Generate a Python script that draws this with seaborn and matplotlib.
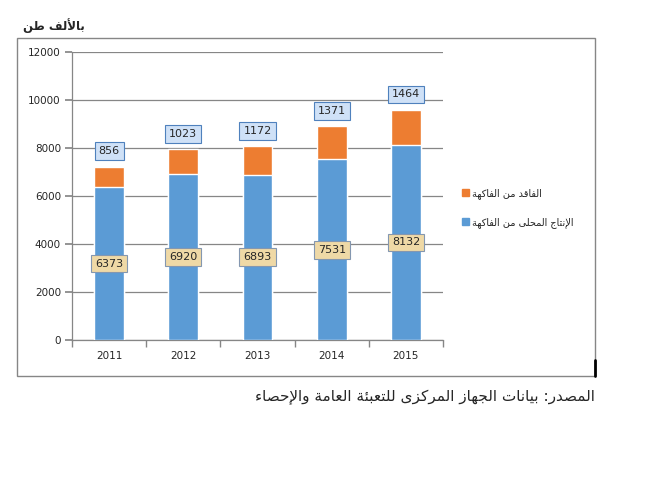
import numpy as np
import pandas as pd
import matplotlib
matplotlib.use("Agg")
import matplotlib.pyplot as plt
import seaborn as sns
from matplotlib.patches import Rectangle
from matplotlib.lines import Line2D

years = ["2011", "2012", "2013", "2014", "2015"]
local_prod = [6373, 6920, 6893, 7531, 8132]
loss = [856, 1023, 1172, 1371, 1464]

unit_label = "بالألف طن"
loss_label = "الفاقد من الفاكهة"
local_label = "الإنتاج المحلى من الفاكهة"
source_label = "المصدر: بيانات الجهاز المركزى للتعبئة العامة والإحصاء"

# --- minimal Arabic shaping (matplotlib has no complex text layout) ---
DUAL = {'ئ': 0xFE89, 'ب': 0xFE8F, 'ت': 0xFE95, 'ث': 0xFE99, 'ج': 0xFE9D,
        'ح': 0xFEA1, 'خ': 0xFEA5, 'س': 0xFEB1, 'ش': 0xFEB5, 'ص': 0xFEB9,
        'ض': 0xFEBD, 'ط': 0xFEC1, 'ظ': 0xFEC5, 'ع': 0xFEC9, 'غ': 0xFECD,
        'ف': 0xFED1, 'ق': 0xFED5, 'ك': 0xFED9, 'ل': 0xFEDD, 'م': 0xFEE1,
        'ن': 0xFEE5, 'ه': 0xFEE9, 'ي': 0xFEF1}
RIGHT = {'آ': 0xFE81, 'أ': 0xFE83, 'ؤ': 0xFE85, 'إ': 0xFE87, 'ا': 0xFE8D,
         'ة': 0xFE93, 'د': 0xFEA9, 'ذ': 0xFEAB, 'ر': 0xFEAD, 'ز': 0xFEAF,
         'و': 0xFEED, 'ى': 0xFEEF}
LAM_ALEF = {'آ': 0xFEF5, 'أ': 0xFEF7, 'إ': 0xFEF9, 'ا': 0xFEFB}


def shape(text):
    toks = []
    i = 0
    while i < len(text):
        c = text[i]
        if c == 'ل' and i + 1 < len(text) and text[i + 1] in LAM_ALEF:
            toks.append(('R', LAM_ALEF[text[i + 1]]))
            i += 2
            continue
        if c in DUAL:
            toks.append(('D', DUAL[c]))
        elif c in RIGHT:
            toks.append(('R', RIGHT[c]))
        elif c == 'ء':
            toks.append(('N', 0xFE80))
        else:
            toks.append(('X', c))
        i += 1
    out = []
    for j, (k, b) in enumerate(toks):
        if k == 'X':
            out.append(b)
            continue
        prev = toks[j - 1][0] if j > 0 else 'X'
        nxt = toks[j + 1][0] if j + 1 < len(toks) else 'X'
        jp = prev == 'D' and k in 'DR'
        jn = k == 'D' and nxt in 'DR'
        if k == 'N':
            off = 0
        elif jp and jn:
            off = 3
        elif jn:
            off = 2
        elif jp:
            off = 1
        else:
            off = 0
        out.append(chr(b + off))
    return ''.join(reversed(out))


sns.set_theme(style="white")
plt.rcParams['font.family'] = ['DejaVu Sans']

df = pd.DataFrame({"year": years, "local": local_prod, "loss": loss})
df["total"] = df["local"] + df["loss"]

blue = "#5b9bd5"
orange = "#ed7d31"
grid_c = "#868686"

fig = plt.figure(figsize=(6.5, 4.83), dpi=100)
ax = fig.add_axes([72 / 650, 143 / 483, 371 / 650, 288 / 483])

sns.barplot(data=df, x="year", y="total", color=orange, width=0.4,
            saturation=1, ax=ax, zorder=2)
sns.barplot(data=df, x="year", y="local", color=blue, width=0.4,
            saturation=1, ax=ax, zorder=3)

ax.set_ylim(0, 12000)
ax.set_xlim(-0.5, len(years) - 0.5)
ax.set_yticks(np.arange(0, 12001, 2000))
ax.yaxis.grid(True, color=grid_c, linewidth=0.9)
ax.set_axisbelow(True)
ax.set_xlabel("")
ax.set_ylabel("")
for s in ["top", "right"]:
    ax.spines[s].set_visible(False)
for s in ["left", "bottom"]:
    ax.spines[s].set_color(grid_c)
    ax.spines[s].set_linewidth(0.9)
ax.tick_params(axis="y", length=5, color=grid_c, labelsize=7.5, left=True, pad=3)
ax.tick_params(axis="x", length=0, labelsize=7.5, pad=8)
ax.set_xticks(np.arange(-0.5, len(years), 1.0), minor=True)
ax.tick_params(axis="x", which="minor", length=5, color=grid_c, bottom=True)

# data labels
for i, row in df.iterrows():
    ax.text(i, row["local"] / 2, f"{row['local']}", ha="center", va="center",
            fontsize=8, zorder=5,
            bbox=dict(boxstyle="square,pad=0.35", fc="#efd9a6", ec="#8497b0", lw=0.8))
    ax.annotate(f"{row['loss']}", xy=(i, row["total"]), xytext=(0, 11),
                textcoords="offset points", ha="center", va="center",
                fontsize=8, zorder=5,
                bbox=dict(boxstyle="square,pad=0.35", fc="#cfe1f7", ec="#4f81bd", lw=0.8))

# legend to the right
handles = [Rectangle((0, 0), 1, 1, color=orange), Rectangle((0, 0), 1, 1, color=blue)]
fig.legend(handles, [shape(loss_label), shape(local_label)],
           loc="upper left", bbox_to_anchor=(458 / 650, 1 - 184 / 483),
           frameon=False, fontsize=7, handlelength=0.7, handleheight=0.7,
           handletextpad=0.3, labelspacing=1.9, borderaxespad=0)

# outer chart border
fig.add_artist(Rectangle((17 / 650, 1 - 376 / 483), 578 / 650, 338 / 483,
                         transform=fig.transFigure, fill=False, ec=grid_c, lw=1))
fig.add_artist(Line2D([595 / 650, 595 / 650], [1 - 376 / 483, 1 - 360 / 483],
                      transform=fig.transFigure, color="black", lw=2))

fig.text(85 / 650, 1 - 26 / 483, shape(unit_label), ha="right", va="center",
         fontsize=8.5, fontweight="bold")
fig.text(595 / 650, 1 - 397 / 483, shape(source_label), ha="right", va="center",
         fontsize=11)

fig.savefig("out.png", dpi=100)
